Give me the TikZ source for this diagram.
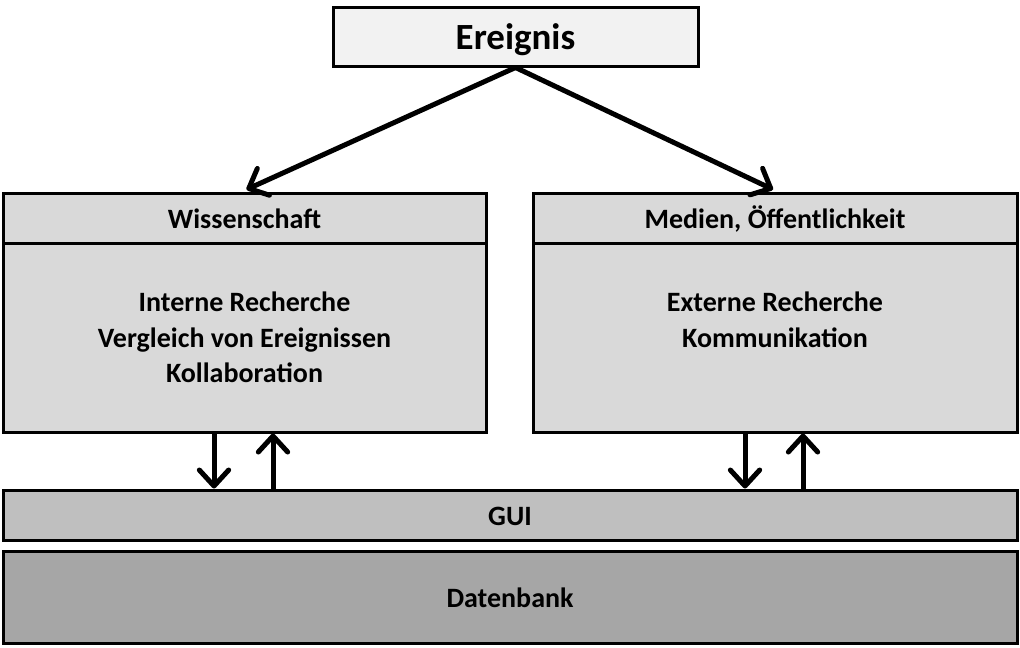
\documentclass[tikz,border=0pt]{standalone}
\usepackage{fontspec}
\setmainfont{Carlito}
\usetikzlibrary{arrows.meta,calc}

\definecolor{ereignisgrau}{HTML}{F2F2F2}
\definecolor{kastengrau}{HTML}{D9D9D9}
\definecolor{guigrau}{HTML}{BFBFBF}
\definecolor{datengrau}{HTML}{A6A6A6}

\tikzset{
  kasten/.style={draw=black, line width=2.25pt, inner sep=0pt,
    text height=15pt, text depth=0pt,
    font=\bfseries\fontsize{21}{26.6}\selectfont},
  inhalt/.style={align=center, anchor=north, inner sep=0pt,
    font=\bfseries\fontsize{21}{26.6}\selectfont},
  pfeil/.style={line width=3.75pt, line cap=round,
    -{Straight Barb[length=12pt, width=22pt, line cap=round, line join=round]}},
}

\begin{document}
\begin{tikzpicture}[x=0.75pt, y=-0.75pt] % 1 Einheit = 1 Pixel
    \useasboundingbox (0,0) rectangle (1020,647);

    % === Ereignis oben ===
    \node[kasten, fill=ereignisgrau, minimum width=273.75pt, minimum height=44.25pt,
          text height=20pt, font=\bfseries\fontsize{27.7}{33}\selectfont] (ereignis) at (515.5,36.5) {Ereignis};

    % === Wissenschaft (links) ===
    \node[kasten, fill=kastengrau, minimum width=362.25pt, minimum height=37.5pt] (wisskopf) at (244.5,218) {Wissenschaft};
    \node[kasten, fill=kastengrau, minimum width=362.25pt, minimum height=141.75pt] (wissrumpf) at (244.5,337.5) {};
    \node[inhalt] (wisstext) at (244.5,292)
        {Interne Recherche\\Vergleich von Ereignissen\\Kollaboration};

    % === Medien, Öffentlichkeit (rechts) ===
    \node[kasten, fill=kastengrau, minimum width=363pt, minimum height=37.5pt] (medkopf) at (775,218) {Medien, Öffentlichkeit};
    \node[kasten, fill=kastengrau, minimum width=363pt, minimum height=141.75pt] (medrumpf) at (775,337.5) {};
    \node[inhalt] (medtext) at (775,292)
        {Externe Recherche\\Kommunikation};

    % === GUI und Datenbank ===
    \node[kasten, fill=guigrau, minimum width=760.5pt, minimum height=37.5pt] (gui) at (510,515) {GUI};
    \node[kasten, fill=datengrau, minimum width=760.5pt, minimum height=69pt] (datenbank) at (510,597) {Datenbank};

    % === Pfeile vom Ereignis ===
    \draw[pfeil] (ereignis.south) -- ($(wisskopf.north)+(2,-2)$);
    \draw[pfeil] (ereignis.south) -- ($(medkopf.north)+(-2,-2)$);

    % === Pfeile zwischen Kästen und GUI ===
    \draw[pfeil] ($(wissrumpf.south)+(-30.5,0)$) -- ($(wissrumpf.south |- gui.north)+(-30.5,0)$);
    \draw[pfeil] ($(wissrumpf.south |- gui.north)+(28.5,0)$) -- ($(wissrumpf.south)+(28.5,0)$);
    \draw[pfeil] ($(medrumpf.south)+(-30,0)$) -- ($(medrumpf.south |- gui.north)+(-30,0)$);
    \draw[pfeil] ($(medrumpf.south |- gui.north)+(28,0)$) -- ($(medrumpf.south)+(28,0)$);
\end{tikzpicture}
\end{document}
